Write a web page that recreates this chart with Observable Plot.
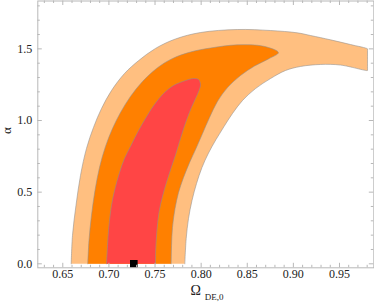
<!DOCTYPE html>
<html>
<head>
<meta charset="utf-8">
<script src="https://cdn.jsdelivr.net/npm/d3@7"></script>
<script src="https://cdn.jsdelivr.net/npm/@observablehq/plot@0.6"></script>
<style>
  html, body { margin: 0; padding: 0; background: #fff; }
</style>
</head>
<body>
<div id="chart"></div>
<script>
// Confidence regions in (Omega_DE,0 , alpha) — [x, y] pairs
const outerRegion = [
  [0.6591,0.000],[0.6605,0.197],[0.6643,0.407],[0.6692,0.617],[0.6757,0.805],[0.6833,0.952],
  [0.6920,1.084],[0.7028,1.209],[0.7169,1.328],[0.7324,1.419],[0.7505,1.503],[0.7722,1.569],
  [0.7993,1.614],[0.8391,1.635],[0.8753,1.628],[0.9041,1.612],[0.9187,1.593],[0.9403,1.563],
  [0.9620,1.530],[0.9804,1.500],[0.9804,1.497],[0.9804,1.352],[0.9804,1.349],
  [0.9511,1.387],[0.9294,1.391],[0.9077,1.377],[0.8915,1.349],[0.8753,1.293],[0.8590,1.223],
  [0.8449,1.140],[0.8340,1.049],[0.8248,0.958],[0.8161,0.867],[0.8080,0.773],[0.8009,0.672],
  [0.7950,0.560],[0.7901,0.442],[0.7863,0.316],[0.7838,0.177],[0.7823,0.000]
];
const middleRegion = [
  [0.6771,0.000],[0.6784,0.163],[0.6811,0.337],[0.6849,0.511],[0.6898,0.672],[0.6963,0.819],
  [0.7039,0.944],[0.7126,1.056],[0.7234,1.168],[0.7364,1.272],[0.7516,1.363],[0.7690,1.433],
  [0.7885,1.478],[0.8102,1.506],[0.8391,1.528],[0.8679,1.518],[0.8838,1.474],
  [0.8730,1.430],[0.8579,1.380],[0.8427,1.314],[0.8286,1.230],[0.8177,1.133],[0.8091,1.021],
  [0.8015,0.909],[0.7944,0.804],[0.7874,0.706],[0.7809,0.602],[0.7755,0.498],[0.7717,0.386],
  [0.7689,0.253],[0.7679,0.128],[0.7675,0.000]
];
const innerRegion = [
  [0.6974,0.000],[0.6985,0.128],[0.6999,0.255],[0.7028,0.407],[0.7061,0.511],[0.7115,0.637],
  [0.7169,0.735],[0.7234,0.819],[0.7310,0.916],[0.7396,1.014],[0.7494,1.112],[0.7592,1.188],
  [0.7700,1.244],[0.7831,1.279],[0.7918,1.293],[0.7972,1.286],[0.7993,1.251],
  [0.7977,1.209],[0.7939,1.153],[0.7895,1.091],[0.7852,1.021],[0.7809,0.941],[0.7766,0.853],
  [0.7722,0.759],[0.7673,0.665],[0.7624,0.567],[0.7581,0.470],[0.7543,0.358],[0.7519,0.218],
  [0.7507,0.093],[0.7505,0.000]
];
const bestFit = [[0.727, 0.0]];

const xMajor = [0.65, 0.70, 0.75, 0.80, 0.85, 0.90, 0.95];
const xMinor = [0.63,0.64,0.66,0.67,0.68,0.69,0.71,0.72,0.73,0.74,0.76,0.77,0.78,0.79,0.81,0.82,0.83,0.84,0.86,0.87,0.88,0.89,0.91,0.92,0.93,0.94,0.96,0.97,0.98];
const yMajor = [0.0, 0.5, 1.0, 1.5];
const yMinor = [0.1,0.2,0.3,0.4,0.6,0.7,0.8,0.9,1.1,1.2,1.3,1.4,1.6,1.7,1.8];

const colors = ["#ffbf80", "#ff8000", "#ff4545"];

const W = 374, H = 304;
const mL = 37.3, mR = 0.7, mT = 0.5, mB = 36.7;
const plotW = W - mL - mR, plotH = H - mT - mB;
const frameColor = "#b8b8b8";
const textColor = "#222";
const majLen = 4.5, minLen = 2.5;

const region = (data, fill) => Plot.line(data, {
  x: d => d[0], y: d => d[1], fill, stroke: "#8f8f8f", strokeOpacity: 0.7,
  strokeWidth: 0.8, curve: "catmull-rom"
});

const chart = Plot.plot({
  width: W, height: H,
  marginLeft: mL, marginRight: mR, marginTop: mT, marginBottom: mB,
  style: {fontFamily: "'Liberation Serif', 'DejaVu Serif', serif", fontSize: "12px", background: "#fff", color: textColor},
  x: {domain: [0.6229, 0.9872], axis: null},
  y: {domain: [-0.0279, 1.834], axis: null},
  marks: [
    region(outerRegion, colors[0]),
    region(middleRegion, colors[1]),
    region(innerRegion, colors[2]),
    Plot.dot(bestFit, {x: d => d[0], y: d => d[1], symbol: "square", r: 4.3, fill: "#000", stroke: "none"}),
    // ticks: bottom/top
    Plot.tickX(xMajor, {x: d => d, insetTop: plotH - majLen, stroke: frameColor}),
    Plot.tickX(xMinor, {x: d => d, insetTop: plotH - minLen, stroke: frameColor}),
    Plot.tickX(xMajor, {x: d => d, insetBottom: plotH - majLen, stroke: frameColor}),
    Plot.tickX(xMinor, {x: d => d, insetBottom: plotH - minLen, stroke: frameColor}),
    // ticks: left/right
    Plot.tickY(yMajor, {y: d => d, insetRight: plotW - majLen, stroke: frameColor}),
    Plot.tickY(yMinor, {y: d => d, insetRight: plotW - minLen, stroke: frameColor}),
    Plot.tickY(yMajor, {y: d => d, insetLeft: plotW - majLen, stroke: frameColor}),
    Plot.tickY(yMinor, {y: d => d, insetLeft: plotW - minLen, stroke: frameColor}),
    Plot.frame({stroke: frameColor}),
    // tick labels
    Plot.text(xMajor, {x: d => d, frameAnchor: "bottom", dy: 9.8, text: d => d.toFixed(2), fontSize: 12, fill: textColor}),
    Plot.text(yMajor, {y: d => d, frameAnchor: "left", textAnchor: "end", dx: -5.5, text: d => d.toFixed(1), fontSize: 12, fill: textColor}),
    // axis titles
    Plot.text(["α"], {frameAnchor: "left", rotate: -90, dx: -30.5, dy: -0.5, fontSize: 13, fill: textColor}),
    Plot.text(["Ω"], {frameAnchor: "bottom", textAnchor: "middle", dx: -10, dy: 27, fontSize: 14, fill: textColor}),
    Plot.text(["DE,0"], {frameAnchor: "bottom", textAnchor: "start", dx: -1, dy: 32, fontSize: 9, fill: textColor})
  ]
});
document.getElementById("chart").appendChild(chart);
</script>
</body>
</html>
